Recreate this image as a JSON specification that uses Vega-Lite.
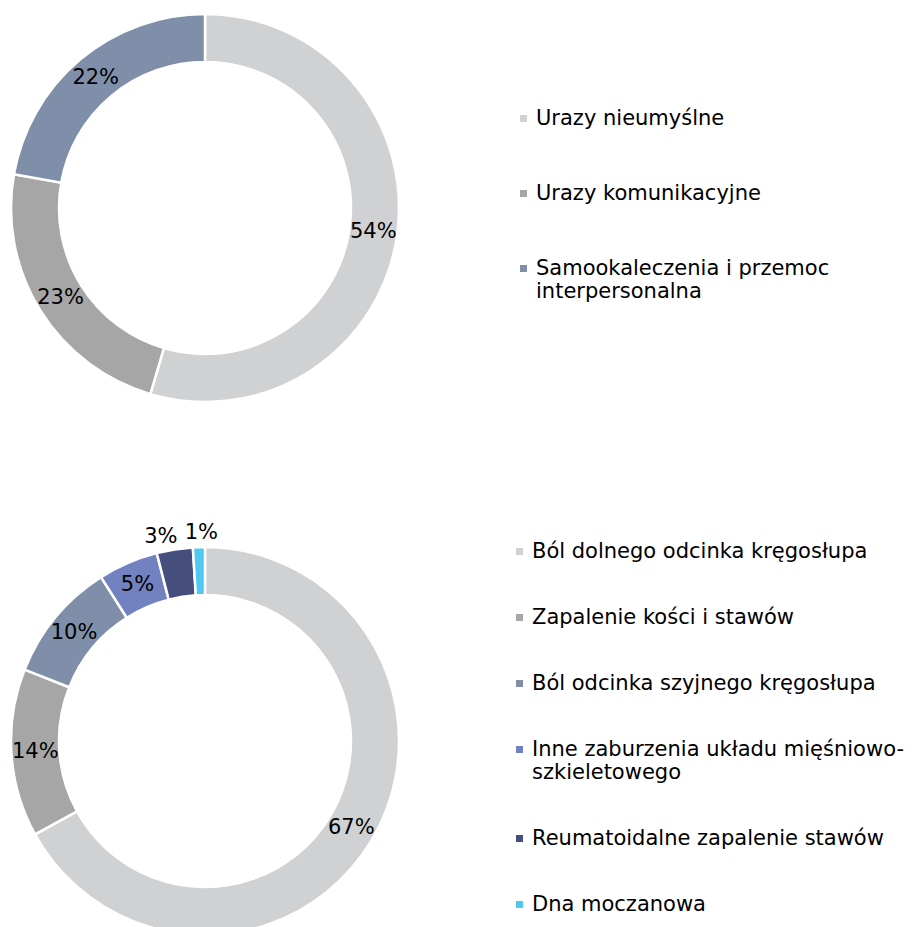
{
  "$schema": "https://vega.github.io/schema/vega-lite/v6.json",
  "background": "white",
  "padding": 0,
  "bounds": "flush",
  "spacing": 135,
  "config": {"view": {"stroke": null}, "font": "DejaVu Sans"},
  "resolve": {"scale": {"color": "independent", "theta": "independent"}, "legend": {"color": "independent"}},
  "vconcat": [
    {
      "width": 410,
      "height": 416,
      "data": {"values": [
        {"kategoria": "Urazy nieumyślne", "udzial": 0.54},
        {"kategoria": "Urazy komunikacyjne", "udzial": 0.23},
        {"kategoria": "Samookaleczenia i przemoc interpersonalna", "udzial": 0.22}
      ]},
      "encoding": {
        "theta": {"field": "udzial", "type": "quantitative", "stack": true},
        "order": {"field": "udzial", "type": "quantitative", "sort": "descending"}
      },
      "layer": [
        {
          "mark": {"type": "arc", "innerRadius": 146, "outerRadius": 194, "stroke": "white", "strokeWidth": 2.5},
          "encoding": {
            "color": {
              "field": "kategoria", "type": "nominal",
              "scale": {
                "domain": ["Urazy nieumyślne", "Urazy komunikacyjne", "Samookaleczenia i przemoc interpersonalna"],
                "range": ["#D0D1D3", "#A6A6A6", "#7F8FA9"]
              },
              "legend": {
                "title": null, "orient": "none", "legendX": 513, "legendY": 108,
                "symbolType": "square", "symbolSize": 49, "symbolStrokeWidth": 0,
                "labelFont": "DejaVu Sans", "labelFontSize": 21, "labelColor": "black",
                "labelOffset": 2, "labelLimit": 500, "rowPadding": 53, "padding": 0,
                "labelExpr": "datum.label == 'Samookaleczenia i przemoc interpersonalna' ? ['Samookaleczenia i przemoc', 'interpersonalna'] : datum.label",
                "encode": {"labels": {"enter": {"lineHeight": {"value": 25}}, "update": {"lineHeight": {"value": 25}}}}
              }
            }
          }
        },
        {
          "mark": {"type": "text", "radius": 170, "fontSize": 21, "font": "DejaVu Sans", "color": "black"},
          "encoding": {"text": {"field": "udzial", "type": "quantitative", "format": ".0%"}}
        }
      ]
    },
    {
      "width": 410,
      "height": 380,
      "data": {"values": [
        {"kategoria": "Ból dolnego odcinka kręgosłupa", "udzial": 0.67},
        {"kategoria": "Zapalenie kości i stawów", "udzial": 0.14},
        {"kategoria": "Ból odcinka szyjnego kręgosłupa", "udzial": 0.10},
        {"kategoria": "Inne zaburzenia układu mięśniowo-szkieletowego", "udzial": 0.05},
        {"kategoria": "Reumatoidalne zapalenie stawów", "udzial": 0.03},
        {"kategoria": "Dna moczanowa", "udzial": 0.01}
      ]},
      "layer": [
        {
          "mark": {"type": "arc", "innerRadius": 146, "outerRadius": 194, "stroke": "white", "strokeWidth": 2.5},
          "encoding": {
            "theta": {"field": "udzial", "type": "quantitative", "stack": true},
            "order": {"field": "udzial", "type": "quantitative", "sort": "descending"},
            "color": {
              "field": "kategoria", "type": "nominal",
              "scale": {
                "domain": ["Ból dolnego odcinka kręgosłupa", "Zapalenie kości i stawów", "Ból odcinka szyjnego kręgosłupa", "Inne zaburzenia układu mięśniowo-szkieletowego", "Reumatoidalne zapalenie stawów", "Dna moczanowa"],
                "range": ["#D0D1D3", "#A6A6A6", "#7F8FA9", "#7281C0", "#464E7E", "#4FC9F2"]
              },
              "legend": {
                "title": null, "orient": "none", "legendX": 509, "legendY": -10,
                "symbolType": "square", "symbolSize": 49, "symbolStrokeWidth": 0,
                "labelFont": "DejaVu Sans", "labelFontSize": 21, "labelColor": "black",
                "labelOffset": 2, "labelLimit": 500, "rowPadding": 44, "padding": 0,
                "labelExpr": "datum.label == 'Inne zaburzenia układu mięśniowo-szkieletowego' ? ['Inne zaburzenia układu mięśniowo-', 'szkieletowego'] : datum.label",
                "encode": {"labels": {"enter": {"lineHeight": {"value": 25}}, "update": {"lineHeight": {"value": 25}}}}
              }
            }
          }
        },
        {
          "transform": [
            {"stack": "udzial", "groupby": [], "sort": [{"field": "udzial", "order": "descending"}], "as": ["t0", "t1"]},
            {"calculate": "(datum.t0 + datum.t1) / 2", "as": "tm"},
            {"filter": "datum.udzial > 0.035"}
          ],
          "mark": {"type": "text", "radius": 170, "fontSize": 21, "font": "DejaVu Sans", "color": "black"},
          "encoding": {
            "theta": {"field": "tm", "type": "quantitative", "stack": false},
            "text": {"field": "udzial", "type": "quantitative", "format": ".0%"}
          }
        },
        {
          "transform": [
            {"stack": "udzial", "groupby": [], "sort": [{"field": "udzial", "order": "descending"}], "as": ["t0", "t1"]},
            {"calculate": "(datum.t0 + datum.t1) / 2", "as": "tm"},
            {"filter": "datum.udzial > 0.02 && datum.udzial < 0.035"}
          ],
          "mark": {"type": "text", "radius": 209, "thetaOffset": -0.056, "fontSize": 21, "font": "DejaVu Sans", "color": "black"},
          "encoding": {
            "theta": {"field": "tm", "type": "quantitative", "stack": false},
            "text": {"field": "udzial", "type": "quantitative", "format": ".0%"}
          }
        },
        {
          "transform": [
            {"stack": "udzial", "groupby": [], "sort": [{"field": "udzial", "order": "descending"}], "as": ["t0", "t1"]},
            {"calculate": "(datum.t0 + datum.t1) / 2", "as": "tm"},
            {"filter": "datum.udzial < 0.02"}
          ],
          "mark": {"type": "text", "radius": 208, "thetaOffset": 0.014, "fontSize": 21, "font": "DejaVu Sans", "color": "black"},
          "encoding": {
            "theta": {"field": "tm", "type": "quantitative", "stack": false},
            "text": {"field": "udzial", "type": "quantitative", "format": ".0%"}
          }
        }
      ]
    }
  ]
}
